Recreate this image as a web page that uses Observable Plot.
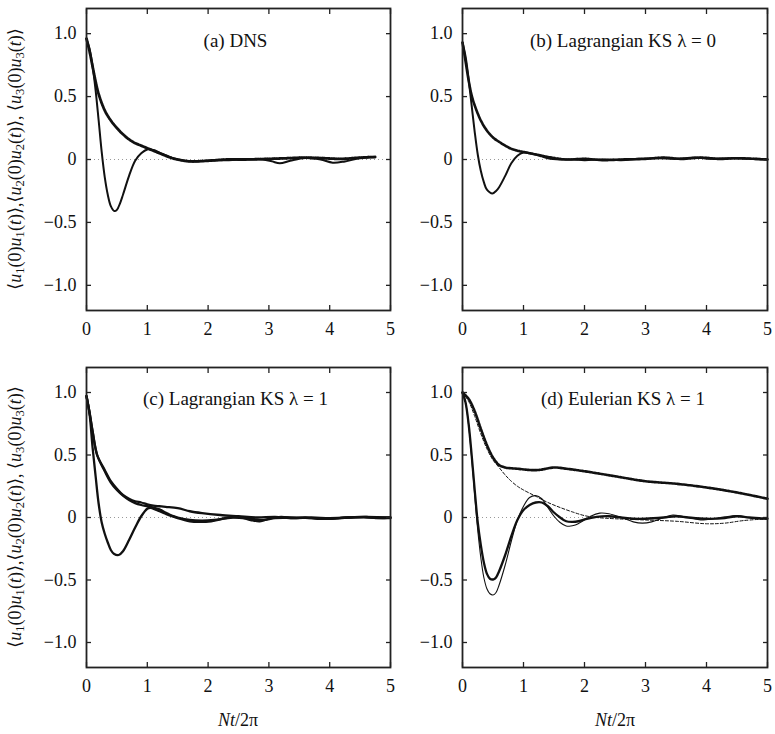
<!DOCTYPE html>
<html><head><meta charset="utf-8">
<script src="https://cdn.jsdelivr.net/npm/d3@7"></script>
<script src="https://cdn.jsdelivr.net/npm/@observablehq/plot@0.6"></script>
<style>
body{margin:0;background:#fff;}
#root{position:relative;width:775px;height:734px;font-family:'Liberation Serif','DejaVu Serif','Noto Serif','Times New Roman',Times,'Nimbus Roman','FreeSerif',serif;color:#111;overflow:hidden;}
.panel{position:absolute;}
.ytitle{position:absolute;white-space:nowrap;font-size:18px;transform:translate(-50%,-50%) rotate(-90deg);}
.xtitle{position:absolute;font-size:18px;transform:translate(-50%,-50%);white-space:nowrap;}
sub{font-size:0.7em;vertical-align:-0.25em;line-height:0;}
</style></head>
<body><div id="root"></div>
<script>
// ---------- data ----------
const xTicks = [0, 1, 2, 3, 4, 5];
const yTicks = [-1.0, -0.5, 0, 0.5, 1.0];
const panelLetters = ["a", "b", "c", "d"];
const panelNames = ["DNS", "Lagrangian KS λ = 0", "Lagrangian KS λ = 1", "Eulerian KS λ = 1"];

// (a) DNS
const tA_u3 = [0,0.05,0.1,0.15,0.2,0.25,0.3,0.35,0.4,0.46,0.5,0.55,0.6,0.7,0.8,0.9,1.0,1.1,1.2,1.3,1.4,1.6,1.8,2.0,2.3,2.6,2.9,3.05,3.18,3.35,3.6,3.85,4.05,4.25,4.5,4.75];
const vA_u3 = [0.96,0.88,0.74,0.55,0.31,0.06,-0.14,-0.28,-0.37,-0.41,-0.40,-0.35,-0.28,-0.13,-0.01,0.05,0.08,0.075,0.055,0.035,0.015,-0.01,-0.015,-0.01,-0.005,0,0,-0.015,-0.03,-0.01,0.012,0,-0.025,-0.015,0.01,0.02];
const tA_uh = [0,0.05,0.1,0.15,0.2,0.3,0.4,0.5,0.6,0.7,0.8,0.9,1.0,1.1,1.2,1.3,1.4,1.5,1.7,2.0,2.3,2.6,3.0,3.3,3.6,3.9,4.2,4.5,4.75];
const vA_uh = [0.96,0.86,0.74,0.62,0.52,0.39,0.31,0.25,0.20,0.16,0.13,0.11,0.09,0.07,0.05,0.03,0.012,0,-0.015,-0.01,0,0,0.005,0.01,0.015,0.01,0.005,0.015,0.02];

// (b) Lagrangian KS lambda = 0
const tB_u3 = [0,0.05,0.1,0.15,0.2,0.25,0.3,0.35,0.4,0.49,0.55,0.6,0.7,0.8,0.9,1.0,1.1,1.2,1.3,1.4,1.6,1.8,2.0,2.3,2.6,2.9,3.2,3.5,3.8,4.1,4.4,4.7,5.0];
const vB_u3 = [0.93,0.82,0.64,0.43,0.22,0.04,-0.09,-0.18,-0.24,-0.27,-0.25,-0.22,-0.13,-0.03,0.03,0.055,0.05,0.04,0.025,0.01,0,0,-0.005,0,-0.005,0.005,0.01,0.005,0.015,0.005,0.01,0.005,0];
const tB_uh = [0,0.05,0.1,0.15,0.2,0.3,0.4,0.5,0.6,0.7,0.8,0.9,1.0,1.1,1.2,1.3,1.4,1.5,1.7,2.0,2.3,2.6,3.0,3.3,3.6,3.9,4.2,4.5,4.8,5.0];
const vB_uh = [0.93,0.78,0.63,0.51,0.43,0.31,0.23,0.175,0.14,0.11,0.085,0.07,0.06,0.05,0.04,0.03,0.02,0.012,0,0.005,-0.005,0,0.005,0.015,0.005,0.015,0.005,0.01,0.005,0];

// (c) Lagrangian KS lambda = 1
const tC_u3 = [0,0.05,0.1,0.15,0.2,0.25,0.3,0.35,0.4,0.45,0.53,0.6,0.7,0.8,0.9,1.0,1.05,1.15,1.3,1.5,1.7,1.85,2.05,2.3,2.5,2.7,2.85,3.0,3.2,3.4,3.6,3.8,4.0,4.3,4.6,4.8,5.0];
const vC_u3 = [0.97,0.83,0.56,0.33,0.11,-0.04,-0.13,-0.20,-0.26,-0.29,-0.30,-0.27,-0.18,-0.08,0.01,0.07,0.077,0.06,0.03,-0.005,-0.03,-0.035,-0.03,-0.005,0.005,-0.02,-0.03,-0.01,0.005,-0.005,0,-0.01,-0.01,0,0.005,-0.005,0];
const tC_u1 = [0,0.05,0.1,0.175,0.3,0.4,0.5,0.6,0.7,0.8,0.9,1.0,1.1,1.2,1.3,1.5,1.7,1.9,2.2,2.5,2.8,3.1,3.4,3.7,4.0,4.3,4.6,5.0];
const vC_u1 = [0.97,0.84,0.69,0.5,0.38,0.29,0.23,0.18,0.15,0.13,0.12,0.105,0.095,0.09,0.085,0.075,0.05,0.035,0.02,0.01,0,0.005,-0.005,0,-0.005,0,0.005,0];
const tC_u2 = [0,0.05,0.1,0.175,0.3,0.4,0.5,0.6,0.7,0.8,0.9,1.0,1.1,1.2,1.3,1.4,1.5,1.7,1.9,2.1,2.4,2.7,2.9,3.1,3.4,3.7,4.0,4.3,4.6,5.0];
const vC_u2 = [0.97,0.84,0.69,0.5,0.37,0.28,0.22,0.175,0.14,0.115,0.10,0.09,0.08,0.065,0.04,0.015,0,-0.02,-0.025,-0.02,0,-0.01,-0.02,-0.005,0,-0.005,-0.01,0,0,-0.005];

// (d) Eulerian KS lambda = 1
const tD_hThick = [0,0.1,0.2,0.3,0.4,0.5,0.6,0.7,0.9,1.1,1.25,1.5,1.7,2.0,2.5,3.0,3.5,4.0,4.5,5.0];
const vD_hThick = [1.0,0.95,0.85,0.71,0.58,0.48,0.42,0.40,0.39,0.38,0.38,0.40,0.39,0.37,0.33,0.29,0.27,0.24,0.20,0.15];
const tD_hThin = [0,0.1,0.2,0.3,0.4,0.5,0.6,0.7,0.8,0.9,1.0,1.2,1.4,1.6,1.8,2.0,2.2,2.5,3.0,3.5,4.0,4.3,4.6,5.0];
const vD_hThin = [1.0,0.93,0.81,0.67,0.55,0.46,0.40,0.34,0.29,0.25,0.22,0.17,0.12,0.08,0.045,0.015,0,-0.01,-0.02,-0.03,-0.05,-0.045,-0.025,-0.01];
const tD_vThick = [0,0.05,0.1,0.15,0.2,0.25,0.3,0.35,0.4,0.45,0.51,0.55,0.6,0.7,0.8,0.9,1.0,1.1,1.2,1.3,1.4,1.5,1.6,1.7,1.8,1.9,2.0,2.2,2.4,2.6,2.8,3.0,3.3,3.5,3.7,4.0,4.3,4.5,4.7,5.0];
const vD_vThick = [1.0,0.92,0.75,0.50,0.22,-0.04,-0.22,-0.36,-0.45,-0.49,-0.495,-0.48,-0.43,-0.30,-0.15,-0.02,0.06,0.10,0.12,0.12,0.09,0.04,0,-0.03,-0.035,-0.03,-0.015,0.005,0.01,0,-0.01,-0.01,0,0.01,0,-0.01,-0.005,0.01,0,-0.01];
const tD_vThin = [0,0.05,0.1,0.15,0.2,0.25,0.3,0.35,0.4,0.45,0.5,0.55,0.6,0.7,0.8,0.9,1.0,1.1,1.2,1.3,1.4,1.5,1.6,1.7,1.75,1.85,2.0,2.1,2.25,2.4,2.6,2.8,2.95,3.1,3.3,3.45,3.6,3.8,3.95,4.1,4.3,4.5,4.7,4.85,5.0];
const vD_vThin = [1.0,0.92,0.74,0.48,0.18,-0.10,-0.32,-0.48,-0.57,-0.61,-0.62,-0.60,-0.54,-0.38,-0.19,-0.02,0.09,0.16,0.175,0.15,0.08,0.01,-0.04,-0.068,-0.07,-0.06,-0.02,0.01,0.035,0.03,0,-0.035,-0.045,-0.035,0,0.02,0.01,-0.01,-0.02,-0.01,0.005,0.015,0,-0.01,-0.01];

// ---------- styles ----------
const FONT = "'Liberation Serif','DejaVu Serif','Noto Serif','Times New Roman',Times,'Nimbus Roman','FreeSerif',serif";
const STY = {
  solid:     {strokeWidth: 2.0},
  dotted:    {strokeWidth: 2.8, strokeDasharray: "1.6,0.7"},
  thick:     {strokeWidth: 2.3},
  thickDot:  {strokeWidth: 2.6, strokeDasharray: "2.2,0.6"},
  thin:      {strokeWidth: 1.1},
  dashThick: {strokeWidth: 2.6, strokeDasharray: "2.0,1.2"},
  dashThin:  {strokeWidth: 1.0, strokeDasharray: "3,2"}
};
const rows = (t, v) => t.map((x, i) => ({t: x, v: v[i]}));

const panelSeries = [
  [[tA_uh, vA_uh, "dotted"], [tA_u3, vA_u3, "solid"]],
  [[tB_uh, vB_uh, "thickDot"], [tB_u3, vB_u3, "solid"]],
  [[tC_u1, vC_u1, "thick"], [tC_u2, vC_u2, "thick"], [tC_u3, vC_u3, "thick"]],
  [[tD_hThick, vD_hThick, "dashThick"], [tD_hThin, vD_hThin, "dashThin"], [tD_vThick, vD_vThick, "thick"], [tD_vThin, vD_vThin, "thin"]]
];

const layout = [
  {left: 0,   top: 0,   width: 395, height: 345, mt: 8,  mb: 35, ml: 86, mr: 5, dx: -3, dy: 25},
  {left: 395, top: 0,   width: 380, height: 345, mt: 8,  mb: 35, ml: 67, mr: 8, dx: 8,  dy: 25},
  {left: 0,   top: 345, width: 395, height: 360, mt: 22, mb: 38, ml: 86, mr: 5, dx: -3, dy: 24},
  {left: 395, top: 345, width: 380, height: 360, mt: 22, mb: 38, ml: 67, mr: 8, dx: 8,  dy: 24}
];

const fmtY = d => d === 0 ? "0" : (d < 0 ? "\u2212" : "") + Math.abs(d).toFixed(1);
const root = document.getElementById("root");

function styleLabel(svg) {
  d3.select(svg).selectAll('g[aria-label="panel label"] text').each(function () {
    const s = this.textContent;
    const m = s.match(/^\((.)\)(.*)$/);
    if (!m) return;
    const sel = d3.select(this);
    sel.text(null);
    sel.append("tspan").text("(");
    sel.append("tspan").attr("font-style", "italic").text(m[1]);
    sel.append("tspan").text(")");
    m[2].split(/(λ)/).forEach(part => {
      if (!part) return;
      const ts = sel.append("tspan").text(part);
      if (part === "λ") ts.attr("font-style", "italic");
    });
  });
}

panelSeries.forEach((series, i) => {
  const L = layout[i];
  const lineMarks = series.map(([t, v, s]) =>
    Plot.line(rows(t, v), {x: "t", y: "v", stroke: "#111", curve: "catmull-rom", strokeLinejoin: "round", ...STY[s]}));
  const svg = Plot.plot({
    width: L.width, height: L.height,
    marginTop: L.mt, marginBottom: L.mb, marginLeft: L.ml, marginRight: L.mr,
    x: {domain: [0, 5], label: null},
    y: {domain: [-1.2, 1.2], label: null},
    style: {fontFamily: FONT, fontSize: "18px", color: "#111", background: "transparent", overflow: "visible"},
    marks: [
      Plot.ruleY([0], {stroke: "#999", strokeDasharray: "1,3", strokeWidth: 1}),
      ...lineMarks,
      Plot.frame({stroke: "#222", strokeWidth: 1.8}),
      Plot.axisX({anchor: "bottom", ticks: xTicks, tickSize: 0, tickPadding: 12, tickFormat: d => String(d), label: null}),
      Plot.axisX({anchor: "bottom", ticks: xTicks, tickSize: -5, fill: "none", stroke: "#222", strokeWidth: 1.3, label: null}),
      Plot.axisX({anchor: "top", ticks: xTicks, tickSize: -5, fill: "none", stroke: "#222", strokeWidth: 1.3, label: null}),
      Plot.axisY({anchor: "left", ticks: yTicks, tickSize: 0, tickPadding: 10, tickFormat: fmtY, label: null}),
      Plot.axisY({anchor: "left", ticks: yTicks, tickSize: -5, fill: "none", stroke: "#222", strokeWidth: 1.3, label: null}),
      Plot.axisY({anchor: "right", ticks: yTicks, tickSize: -5, fill: "none", stroke: "#222", strokeWidth: 1.3, label: null}),
      Plot.text([`(${panelLetters[i]}) ${panelNames[i]}`], {frameAnchor: "top", dx: L.dx, dy: L.dy, fontSize: 19, fill: "#111", ariaLabel: "panel label"})
    ]
  });
  styleLabel(svg);
  const wrap = document.createElement("div");
  wrap.className = "panel";
  wrap.style.left = L.left + "px";
  wrap.style.top = L.top + "px";
  wrap.appendChild(svg);
  root.appendChild(wrap);
});

// axis titles (HTML, outside the SVGs)
const yTitleHTML = "⟨<i>u</i><sub>1</sub>(0)<i>u</i><sub>1</sub>(<i>t</i>)⟩,⟨<i>u</i><sub>2</sub>(0)<i>u</i><sub>2</sub>(<i>t</i>)⟩, ⟨<i>u</i><sub>3</sub>(0)<i>u</i><sub>3</sub>(<i>t</i>)⟩";
const xTitleHTML = "<i>Nt</i>/2π";
[[15, 159], [15, 517]].forEach(([x, y]) => {
  const d = document.createElement("div");
  d.className = "ytitle";
  d.style.left = x + "px"; d.style.top = y + "px";
  d.innerHTML = yTitleHTML;
  root.appendChild(d);
});
[[238, 720], [615, 720]].forEach(([x, y]) => {
  const d = document.createElement("div");
  d.className = "xtitle";
  d.style.left = x + "px"; d.style.top = y + "px";
  d.innerHTML = xTitleHTML;
  root.appendChild(d);
});
</script>
</body></html>
